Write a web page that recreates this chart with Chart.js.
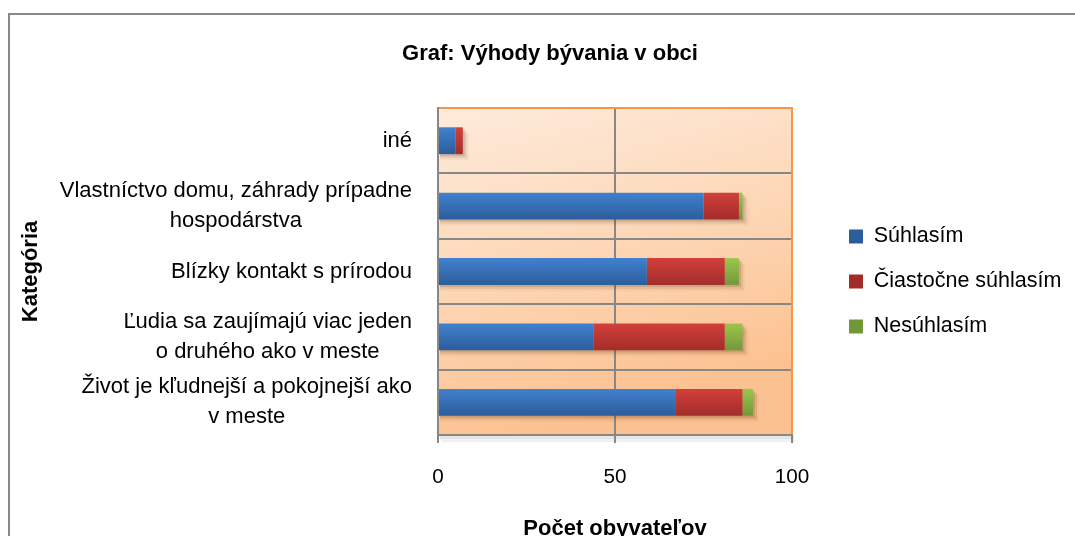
<!DOCTYPE html>
<html>
<head>
<meta charset="utf-8">
<script src="https://cdn.jsdelivr.net/npm/chart.js@4.4.1/dist/chart.umd.min.js"></script>
<style>
html,body{margin:0;padding:0;overflow:hidden;background:#fff;}
canvas{display:block;}
</style>
</head>
<body>
<canvas id="c" width="1075" height="560"></canvas>
<script>
// ---- data ----
const categories = [
  'iné',
  ['Vlastníctvo domu, záhrady prípadne', 'hospodárstva'],
  'Blízky kontakt s prírodou',
  ['Ľudia sa zaujímajú viac jeden', 'o druhého ako v meste'],
  ['Život je kľudnejší a pokojnejší ako', 'v meste']
];
const seriesNames = ['Súhlasím', 'Čiastočne súhlasím', 'Nesúhlasím'];
const suhlasim   = [5, 75, 59, 44, 67];
const ciastocne  = [2, 10, 22, 37, 19];
const nesuhlasim = [0, 1, 4, 5, 3];
const xTickValues = [0, 50, 100];
const chartTitle = 'Graf: Výhody bývania v obci';
const xTitle = 'Počet obyvateľov';
const yTitle = 'Kategória';

// ---- fonts ----
function hasFont(name){
  const c = document.createElement('canvas').getContext('2d');
  c.font = '40px monospace';
  const a = c.measureText('abcdefghijklmnopWM').width;
  c.font = '40px "' + name + '", monospace';
  return c.measureText('abcdefghijklmnopWM').width !== a;
}
const NARROW = hasFont('Liberation Sans Narrow');
const FAM = NARROW ? '"Liberation Sans Narrow", "Liberation Sans", Arial, sans-serif'
                   : '"Liberation Sans", Arial, sans-serif';
const K = NARROW ? 1 : 0.845;
const fs = n => Math.round(n * K * 10) / 10;

const TITLE_FS = fs(26), AX_T_FS = fs(26), TICK_FS = fs(24.5), LBL_FS = fs(26), LEG_FS = fs(25.5);
const LBL_LH = 30;

// layout targets
const PLOT_LEFT = 438, PLOT_RIGHT = 792, PLOT_TOP = 108, PLOT_BOTTOM = 435, CANVAS_H = 560;
const GRID = '#878787';

Chart.defaults.font.family = FAM;
Chart.defaults.color = '#000';

// legend sizing
const LEG_BOX = 14;
const LEG_PAD = 45 - Math.max(LEG_FS, LEG_BOX);
const mctx = document.createElement('canvas').getContext('2d');
mctx.font = LEG_FS + 'px ' + FAM;
const legTextW = Math.max(...seriesNames.map(s => mctx.measureText(s).width));
const legW = LEG_PAD + LEG_BOX + LEG_FS / 2 + legTextW + 10;
const padRight = 1075 - PLOT_RIGHT - legW;

// title paddings
const tLH = TITLE_FS * 1.2;
const titlePadTop = 54 - tLH / 2;
const titlePadBottom = PLOT_TOP - titlePadTop - tLH;
const axLH = AX_T_FS * 1.2;
const tickLH = TICK_FS * 1.2;

function barGrad(top, bottom, mid){
  return function(ctx){
    const chart = ctx.chart;
    if (ctx.type !== 'data' || !chart.chartArea || !chart.scales.y) return mid;
    const y = chart.scales.y.getPixelForValue(ctx.dataIndex);
    const g = chart.ctx.createLinearGradient(0, y - 14, 0, y + 14);
    g.addColorStop(0, top);
    g.addColorStop(1, bottom);
    return g;
  };
}

const framePlugin = {
  id: 'frame',
  beforeDraw(chart){
    const ctx = chart.ctx, ca = chart.chartArea;
    ctx.save();
    ctx.strokeStyle = '#898989';
    ctx.lineWidth = 2;
    ctx.strokeRect(9, 14, 1300, 900);
    // soft shadow under plot area
    ctx.fillStyle = 'rgba(0,0,0,0.10)';
    ctx.fillRect(ca.left + 2, ca.bottom, ca.width, 4);
    ctx.fillStyle = 'rgba(0,0,0,0.06)';
    ctx.fillRect(ca.left + 3, ca.bottom + 4, ca.width, 3);
    const g = ctx.createLinearGradient(ca.left, ca.top, ca.left + ca.width * 0.25, ca.bottom);
    g.addColorStop(0, '#fdebdc');
    g.addColorStop(0.5, '#fdd8b8');
    g.addColorStop(1, '#fcc190');
    ctx.fillStyle = g;
    ctx.fillRect(ca.left, ca.top, ca.width, ca.height);
    ctx.restore();
  },
  beforeDatasetsDraw(chart){
    // drop shadow behind each stacked bar, taken from the bar elements
    const ctx = chart.ctx;
    ctx.save();
    const metas = chart.data.datasets.map((d, k) => chart.getDatasetMeta(k));
    categories.forEach((c, i) => {
      let x0 = Infinity, x1 = -Infinity, y = 0, h = 0;
      metas.forEach(m => {
        const el = m.data[i];
        if (!el) return;
        const p = el.getProps(['x', 'y', 'base', 'height'], true);
        if (Math.abs(p.x - p.base) < 0.5) return;
        x0 = Math.min(x0, p.base, p.x); x1 = Math.max(x1, p.base, p.x);
        y = p.y; h = p.height;
      });
      if (!isFinite(x0)) return;
      const layers = [[2, 0.16], [4, 0.10], [6, 0.05]];
      layers.forEach(([o, a]) => {
        ctx.fillStyle = 'rgba(90,55,20,' + a + ')';
        ctx.fillRect(x0 + 1, y - h / 2 + o, x1 - x0 + o - 1, h);
      });
    });
    ctx.restore();
  },
  afterDraw(chart){
    const ctx = chart.ctx, ca = chart.chartArea;
    ctx.save();
    ctx.strokeStyle = '#f79646';
    ctx.lineWidth = 2;
    ctx.beginPath();
    ctx.moveTo(ca.left + 1, ca.top);
    ctx.lineTo(ca.right, ca.top);
    ctx.lineTo(ca.right, ca.bottom - 1);
    ctx.stroke();
    // category labels: block right-aligned, lines centered within block
    const ys = chart.scales.y;
    ctx.font = LBL_FS + 'px ' + FAM;
    ctx.fillStyle = '#000';
    ctx.textAlign = 'center';
    ctx.textBaseline = 'middle';
    categories.forEach((c, i) => {
      const lines = Array.isArray(c) ? c : [c];
      const w = Math.max(...lines.map(l => ctx.measureText(l).width));
      const cx = ca.left - 26 - w / 2;
      const yc = ys.getPixelForValue(i);
      lines.forEach((l, j) => ctx.fillText(l, cx, yc + (j - (lines.length - 1) / 2) * LBL_LH));
    });
    ctx.restore();
  },
  afterLayout(chart){
    const lg = chart.legend, ca = chart.chartArea;
    if (lg) {
      const itemH = Math.max(LEG_FS, LEG_BOX);
      const colH = seriesNames.length * (itemH + LEG_PAD);
      const y0 = ((ca.top + LEG_PAD) + (ca.bottom - colH)) / 2;
      const dy = 228 - itemH / 2 - y0;
      lg.top += dy; lg.bottom += dy;
      const w = lg.width;
      lg.left = 849 - LEG_PAD; lg.right = lg.left + w;
    }
    const tb = chart.titleBlock;
    if (tb) {
      const dx = 550 - (tb.left + tb.right) / 2;
      tb.left += dx; tb.right += dx;
    }
  }
};

new Chart(document.getElementById('c'), {
  type: 'bar',
  data: {
    labels: categories,
    datasets: [
      { label: seriesNames[0], data: suhlasim,
        backgroundColor: barGrad('#4182d0', '#2c5c9a', '#3a70b8') },
      { label: seriesNames[1], data: ciastocne,
        backgroundColor: barGrad('#d4403a', '#a12d2a', '#c0392f') },
      { label: seriesNames[2], data: nesuhlasim,
        backgroundColor: barGrad('#9cc84c', '#729739', '#8ab442') }
    ]
  },
  options: {
    indexAxis: 'y',
    responsive: false,
    animation: false,
    devicePixelRatio: 1,
    events: [],
    datasets: { bar: { barPercentage: 0.41, categoryPercentage: 1, borderWidth: 0 } },
    layout: { padding: { left: 0, right: padRight, top: 0, bottom: 0 } },
    plugins: {
      title: {
        display: true, text: chartTitle, color: '#000',
        font: { size: TITLE_FS, weight: 'bold' },
        padding: { top: titlePadTop, bottom: titlePadBottom }
      },
      legend: {
        display: true, position: 'right', align: 'center',
        labels: {
          boxWidth: LEG_BOX, boxHeight: LEG_BOX, padding: LEG_PAD,
          color: '#000', font: { size: LEG_FS }
        }
      },
      tooltip: { enabled: false }
    },
    scales: {
      x: {
        type: 'linear', stacked: true, min: 0, max: 100,
        afterBuildTicks: s => { s.ticks = xTickValues.map(v => ({ value: v })); },
        ticks: { font: { size: TICK_FS }, color: '#000', padding: 477 - PLOT_BOTTOM - 8 - tickLH / 2 },
        grid: { color: GRID, lineWidth: 2, drawTicks: true, tickLength: 8, tickColor: GRID },
        border: { display: true, color: GRID, width: 2 },
        title: {
          display: true, text: xTitle, color: '#000',
          font: { size: AX_T_FS, weight: 'bold' },
          padding: { top: 0, bottom: 31 - axLH / 2 }
        },
        afterFit: s => { s.height = CANVAS_H - PLOT_BOTTOM; }
      },
      y: {
        type: 'category', stacked: true, offset: true,
        ticks: { display: false },
        grid: { offset: true, color: GRID, lineWidth: 2, drawTicks: false },
        border: { display: true, color: GRID, width: 2 },
        title: {
          display: true, text: yTitle, color: '#000',
          font: { size: AX_T_FS, weight: 'bold' },
          padding: { top: 31 - axLH / 2, bottom: 0 }
        },
        afterFit: s => { s.width = PLOT_LEFT; }
      }
    }
  },
  plugins: [framePlugin]
});
</script>
</body>
</html>
